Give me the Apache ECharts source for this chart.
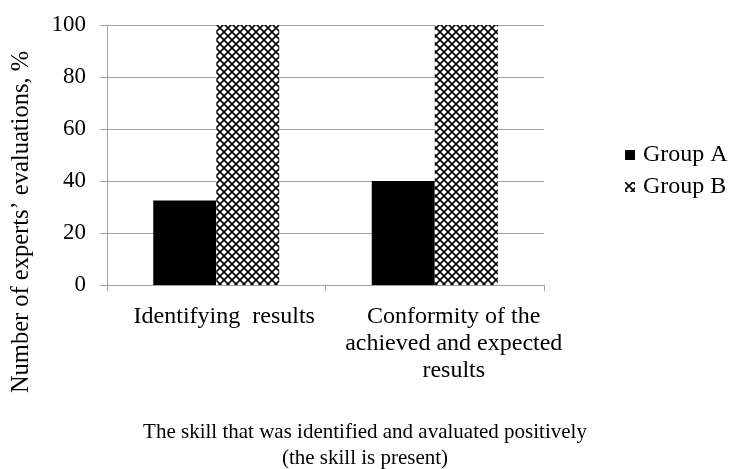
<!DOCTYPE html>
<html>
<head>
<meta charset="utf-8">
<script src="https://cdn.jsdelivr.net/npm/echarts@6/dist/echarts.min.js"></script>
<style>
  body { margin: 0; background: #fff; }
  #main { width: 730px; height: 469px; }
</style>
</head>
<body>
<div id="main"></div>
<script>
// data
const categories = ['Identifying  results', 'Conformity of the\nachieved and expected\nresults']
const groupA = [32.5, 40]
const groupB = [100, 100]
const yTicks = [0, 20, 40, 60, 80, 100]

// crosshatch pattern for group B
function makePattern() {
  let c = document.createElement('canvas')
  c.width = 8
  c.height = 8
  let ctx = c.getContext('2d')
  ctx.fillStyle = '#fff'
  ctx.fillRect(0, 0, 8, 8)
  ctx.strokeStyle = '#000'
  ctx.lineWidth = 1.6
  ctx.beginPath()
  ctx.moveTo(-1, -1); ctx.lineTo(9, 9)
  ctx.moveTo(9, -1); ctx.lineTo(-1, 9)
  ctx.stroke()
  return c
}

const font = 'Liberation Serif'
let myChart = echarts.init(document.getElementById('main'))
myChart.setOption({
  animation: false,
  textStyle: { fontFamily: font, color: '#000' },
  grid: { left: 107, right: 186, top: 25, bottom: 184 },
  legend: {
    orient: 'vertical',
    left: 620,
    top: 138,
    icon: 'rect',
    itemWidth: 10,
    itemHeight: 10,
    itemGap: 8,
    textStyle: { fontFamily: font, fontSize: 24, color: '#000', padding: [0, 0, 0, 3] },
    data: ['Group A', 'Group B']
  },
  xAxis: {
    type: 'category',
    data: categories,
    axisLine: { lineStyle: { color: '#a0a0a0', width: 1 } },
    axisTick: { show: true, length: 6, lineStyle: { color: '#a0a0a0' } },
    axisLabel: {
      margin: 18,
      interval: 0,
      formatter: function (value, index) {
        return '{c' + index + '|' + value + '}'
      },
      rich: {
        c0: { fontFamily: font, fontSize: 24, lineHeight: 27, color: '#000', padding: [0, 0, 0, 16] },
        c1: { fontFamily: font, fontSize: 24, lineHeight: 27, color: '#000', padding: [0, 0, 0, 38] }
      }
    }
  },
  yAxis: {
    type: 'value',
    min: yTicks[0],
    max: yTicks[yTicks.length - 1],
    interval: 20,
    axisLine: { show: true, lineStyle: { color: '#a0a0a0', width: 1 } },
    axisTick: { show: true, length: 7, lineStyle: { color: '#a0a0a0' } },
    splitLine: { lineStyle: { color: '#a0a0a0', width: 1.2 } },
    axisLabel: { margin: 21, fontFamily: font, fontSize: 23, color: '#000' }
  },
  graphic: [
    {
      type: 'text',
      x: 22,
      y: 222,
      rotation: Math.PI / 2,
      style: {
        text: 'Number of experts’ evaluations, %',
        fontFamily: font,
        fontSize: 24.5,
        fill: '#000',
        align: 'center',
        verticalAlign: 'middle'
      }
    },
    {
      type: 'text',
      x: 365,
      y: 445,
      style: {
        text: 'The skill that was identified and avaluated positively\n(the skill is present)',
        fontFamily: font,
        fontSize: 21,
        lineHeight: 26,
        fill: '#000',
        align: 'center',
        verticalAlign: 'middle'
      }
    }
  ],
  series: [
    {
      name: 'Group A',
      type: 'bar',
      data: groupA,
      barWidth: 63,
      barGap: '0%',
      itemStyle: { color: '#000' }
    },
    {
      name: 'Group B',
      type: 'bar',
      data: groupB,
      barWidth: 63,
      barGap: '0%',
      itemStyle: { color: { image: makePattern(), repeat: 'repeat' } }
    }
  ]
})
</script>
</body>
</html>
